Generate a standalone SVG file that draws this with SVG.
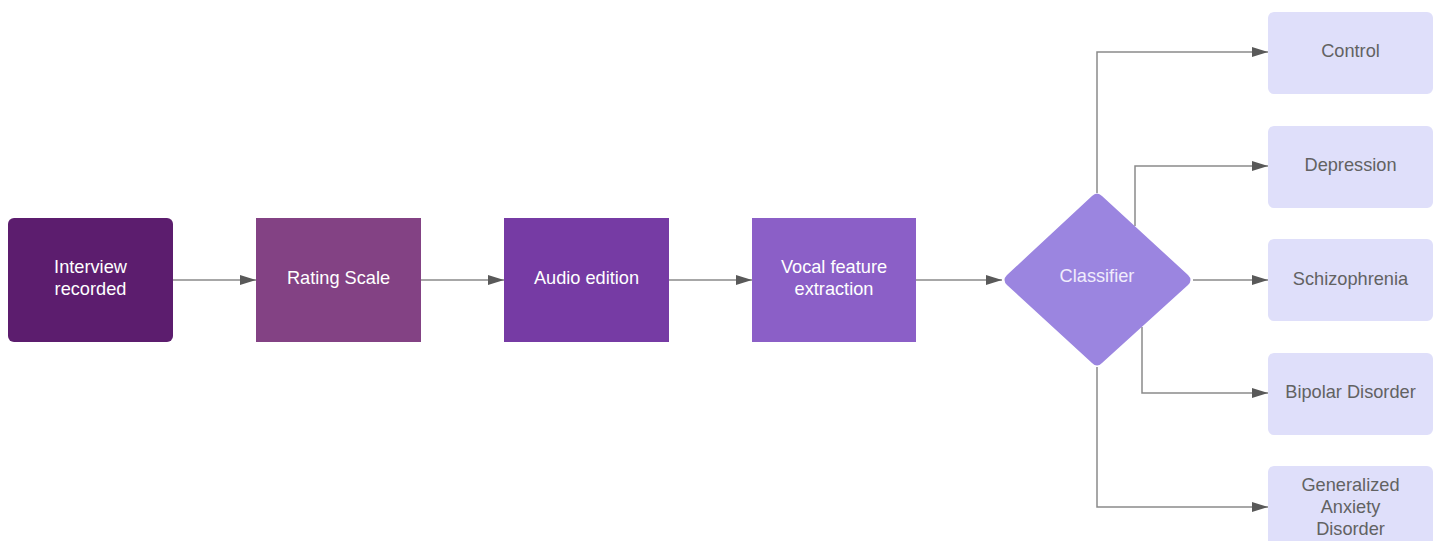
<svg xmlns="http://www.w3.org/2000/svg" width="1437" height="541" viewBox="0 0 1437 541">
<defs>
<marker id="arr" viewBox="0 0 10 10" refX="10" refY="5" markerWidth="16" markerHeight="10" markerUnits="userSpaceOnUse" orient="auto" preserveAspectRatio="none">
<path d="M0,0 L10,5 L0,10 z" fill="#595959"/>
</marker>
</defs>
<style>
.lbl{font-family:"Liberation Sans",Arial,sans-serif;font-size:18.2px;text-anchor:middle}
.w{fill:#ffffff}
.g{fill:#626262}
.c{fill:none;stroke:#8a8a8a;stroke-width:1.5;marker-end:url(#arr)}
.out{fill:#dfdffa}
</style>
<rect width="1437" height="541" fill="#ffffff"/>
<g id="connectors">
<path class="c" d="M173,280 H256"/>
<path class="c" d="M421,280 H504"/>
<path class="c" d="M669,280 H752"/>
<path class="c" d="M916,280 H1002"/>
<path class="c" d="M1097,193 V52 H1268"/>
<path class="c" d="M1135,226 V166 H1268"/>
<path class="c" d="M1193,280 H1268"/>
<path class="c" d="M1142,327 V393 H1268"/>
<path class="c" d="M1097,367 V507 H1268"/>
</g>
<g id="interview">
<rect x="8" y="218" width="165" height="124" rx="6" fill="#5c1d6e"/>
<text class="lbl w" x="90.5" y="273">Interview</text>
<text class="lbl w" x="90.5" y="295">recorded</text>
</g>
<g id="rating">
<rect x="256" y="218" width="165" height="124" fill="#834284"/>
<text class="lbl w" x="338.5" y="284">Rating Scale</text>
</g>
<g id="audio">
<rect x="504" y="218" width="165" height="124" fill="#763ba4"/>
<text class="lbl w" x="586.5" y="284">Audio edition</text>
</g>
<g id="vocal">
<rect x="752" y="218" width="164" height="124" fill="#8b5fc7"/>
<text class="lbl w" x="834" y="273">Vocal feature</text>
<text class="lbl w" x="834" y="295">extraction</text>
</g>
<g id="classifier">
<path d="M1092,196 Q1097,191 1102,196 L1188,275 Q1193,280 1188,285 L1102,363 Q1097,368 1092,363 L1007,285 Q1002,280 1007,275 Z" fill="#9b85e0"/>
<text class="lbl" x="1097" y="282" fill="#f0ecfc">Classifier</text>
</g>
<g id="control">
<rect x="1268" y="12" width="165" height="82" rx="6" class="out"/>
<text class="lbl g" x="1350.5" y="57">Control</text>
</g>
<g id="depression">
<rect x="1268" y="126" width="165" height="82" rx="6" class="out"/>
<text class="lbl g" x="1350.5" y="171">Depression</text>
</g>
<g id="schizophrenia">
<rect x="1268" y="239" width="165" height="82" rx="6" class="out"/>
<text class="lbl g" x="1350.5" y="285">Schizophrenia</text>
</g>
<g id="bipolar">
<rect x="1268" y="353" width="165" height="82" rx="6" class="out"/>
<text class="lbl g" x="1350.5" y="398">Bipolar Disorder</text>
</g>
<g id="gad">
<rect x="1268" y="466" width="165" height="82" rx="6" class="out"/>
<text class="lbl g" x="1350.5" y="491">Generalized</text>
<text class="lbl g" x="1350.5" y="513">Anxiety</text>
<text class="lbl g" x="1350.5" y="535">Disorder</text>
</g>
</svg>
